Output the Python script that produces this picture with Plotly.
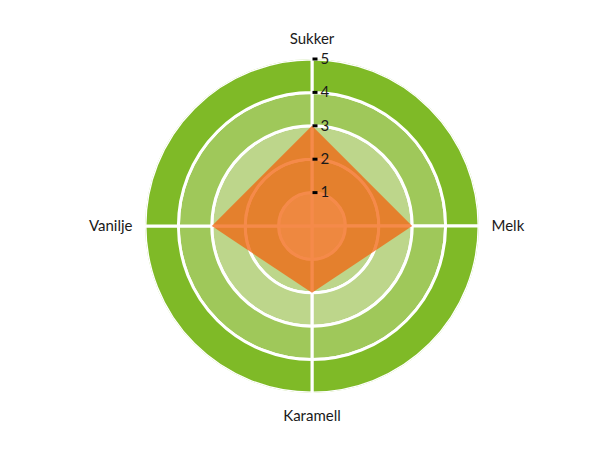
import plotly.graph_objects as go

# chart data
categories = ["Sukker", "Melk", "Karamell", "Vanilje"]
cat_angles = [0, 90, 180, 270]
values = [3, 3, 2, 3]
radial_ticks = [1, 2, 3, 4, 5]

# background ring bands (inner edge, colour)
ring_bases = [0, 1, 2, 3, 4]
ring_colors = ["#e2f8d8", "#bdd68b", "#bdd68b", "#9fc85a", "#7fba27"]
sector_centers = [45, 135, 225, 315]

fig = go.Figure()

# concentric bands, split into quarters so the white outlines form the grid
for base, color in zip(ring_bases, ring_colors):
    fig.add_trace(go.Barpolar(
        r=[1] * len(sector_centers),
        base=[base] * len(sector_centers),
        theta=sector_centers,
        width=[90] * len(sector_centers),
        marker=dict(color=color, line=dict(color="white", width=3)),
        hoverinfo="skip",
        showlegend=False,
    ))

# the profile
fig.add_trace(go.Scatterpolar(
    r=values + values[:1],
    theta=cat_angles + cat_angles[:1],
    mode="lines",
    fill="toself",
    fillcolor="rgba(241,99,14,0.75)",
    line=dict(width=0, color="rgba(241,99,14,0)"),
    hoverinfo="skip",
    showlegend=False,
))

# faint grid showing through the profile
for base in ring_bases[:3]:
    fig.add_trace(go.Barpolar(
        r=[1] * len(sector_centers),
        base=[base] * len(sector_centers),
        theta=sector_centers,
        width=[90] * len(sector_centers),
        marker=dict(color="rgba(0,0,0,0)", line=dict(color="rgba(255,255,255,0.3)", width=2.5)),
        hoverinfo="skip",
        showlegend=False,
    ))

fig.update_layout(
    width=610,
    height=450,
    margin=dict(l=0, r=0, t=0, b=0),
    paper_bgcolor="white",
    font=dict(family="Lato, sans-serif", color="#1a1a1a"),
    polar=dict(
        domain=dict(x=[137 / 610, 471 / 610], y=[1 - 385 / 450, 1 - 51 / 450]),
        bgcolor="white",
        bargap=0,
        radialaxis=dict(
            range=[0, 5],
            angle=90,
            side="clockwise",
            tickvals=radial_ticks,
            ticks="outside",
            ticklen=5,
            tickwidth=3,
            tickcolor="black",
            tickangle=90,
            showline=False,
            showgrid=False,
            tickfont=dict(size=15, color="#1a1a1a"),
            layer="above traces",
        ),
        angularaxis=dict(
            rotation=90,
            direction="clockwise",
            tickvals=cat_angles,
            ticktext=categories,
            ticks="outside",
            ticklen=9,
            tickcolor="rgba(0,0,0,0)",
            showline=False,
            showgrid=False,
            tickfont=dict(size=15, color="#1a1a1a"),
        ),
    ),
)

fig.write_html("out.html")
